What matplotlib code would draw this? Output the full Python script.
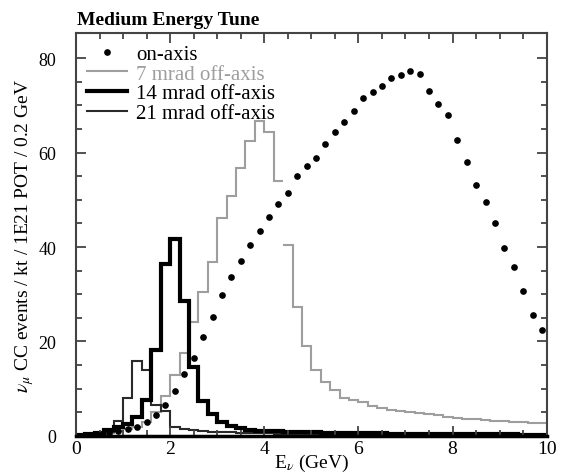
import numpy as np
import matplotlib.pyplot as plt

# bin edges 0.2 GeV
edges = np.round(np.arange(0, 10.01, 0.2), 2)
centers = np.round(edges[:-1] + 0.1, 2)

on_axis = [0.05, 0.15, 0.3, 0.6, 1.0, 1.5, 2.0, 3.0, 4.5, 6.5,
           9.5, 13.1, 16.5, 20.9, 25.2, 29.8, 33.7, 37.1, 40.5, 43.3,
           46.4, 49.0, 51.4, 55.0, 57.2, 58.9, 61.7, 64.3, 66.5, 68.8,
           71.5, 72.9, 74.1, 75.8, 76.5, 77.2, 76.6, 73.1, 70.2, 68.0,
           62.7, 58.1, 53.1, 49.5, 45.1, 39.7, 35.8, 30.6, 25.6, 22.4]

off7 = [0.05, 0.15, 0.3, 0.6, 1.0, 1.5, 2.0, 3.0, 5.0, 8.5,
        12.9, 17.5, 24.1, 30.4, 36.9, 46.1, 50.9, 56.7, 62.4, 66.7,
        64.4, 54.0, 40.4, 27.4, 19.1, 14.0, 11.5, 9.8, 8.1, 7.7,
        7.1, 6.3, 5.9, 5.5, 5.2, 5.0, 4.8, 4.6, 4.4, 4.0,
        3.8, 3.7, 3.5, 3.4, 3.2, 3.1, 3.0, 2.9, 2.8, 2.7]

off14 = [0.2, 0.4, 0.7, 1.2, 1.8, 2.5, 4.1, 7.6, 18.1, 36.4,
         41.7, 28.6, 14.5, 7.3, 4.7, 2.9, 2.05, 1.6, 1.3, 1.1,
         1.0, 0.95, 0.9, 0.85, 0.8, 0.75, 0.7, 0.7, 0.65, 0.6,
         0.6, 0.55, 0.55, 0.5, 0.5, 0.5, 0.45, 0.45, 0.45, 0.4,
         0.4, 0.4, 0.4, 0.35, 0.35, 0.35, 0.35, 0.3, 0.3, 0.3]

off21 = [0.1, 0.2, 0.4, 0.8, 3.2, 8.0, 15.8, 14.0, 6.6, 5.2,
         1.9, 1.4, 1.2, 1.0, 0.9, 0.8, 0.75, 0.7, 0.65, 0.6,
         0.55, 0.5, 0.5, 0.45, 0.45, 0.4, 0.4, 0.4, 0.35, 0.35,
         0.35, 0.3, 0.3, 0.3, 0.3, 0.3, 0.25, 0.25, 0.25, 0.25,
         0.25, 0.2, 0.2, 0.2, 0.2, 0.2, 0.2, 0.2, 0.2, 0.2]

plt.rcParams['font.family'] = ['Liberation Serif', 'DejaVu Serif']
plt.rcParams['mathtext.fontset'] = 'stix'

fig = plt.figure(figsize=(5.61, 4.77), dpi=100)
ax = fig.add_axes([0.1355, 0.0839, 0.839, 0.8448])

gris = '#9e9e9e'
# 7 mrad drawn in two pieces (gap at 4.4 GeV as in original)
k = 22
ax.stairs(off7[:k], edges[:k + 1], color=gris, lw=1.5, baseline=None,
          label='7 mrad off-axis')
ax.stairs(off7[k:], edges[k:], color=gris, lw=1.5, baseline=None)
ax.stairs(off21, edges, color='#2a2a2a', lw=1.5, baseline=None,
          label='21 mrad off-axis')
ax.stairs(off14, edges, color='black', lw=3, baseline=None,
          label='14 mrad off-axis')
ax.plot(centers, on_axis, 'o', color='black', ms=3.8, ls='none',
        label='on-axis')

ax.set_xlim(0, 10)
ax.set_ylim(0, 85.3)
ax.set_xticks([0, 2, 4, 6, 8, 10])
ax.set_xticks(np.arange(0, 10.01, 0.5), minor=True)
ax.set_yticks([0, 20, 40, 60, 80])
ax.set_yticks(np.arange(0, 85, 5), minor=True)
ax.tick_params(which='both', direction='in', top=True, right=True,
               color='#444444', width=1.3)
ax.tick_params(which='major', length=7)
ax.tick_params(which='minor', length=4)
ax.tick_params(axis='y', labelsize=13, pad=14)
ax.tick_params(axis='x', labelsize=14, pad=3)
for s in ax.spines.values():
    s.set_color('#444444')
    s.set_linewidth(1.5)
ax.spines['bottom'].set_color('black')
ax.spines['bottom'].set_linewidth(2.5)

ax.set_xlabel(r'E$_\nu$ (GeV)', fontsize=14, labelpad=-4)
ax.set_ylabel(r'$\nu_\mu$ CC events / kt / 1E21 POT / 0.2 GeV', fontsize=14,
              labelpad=2)
fig.text(0.137, 0.958, 'Medium Energy Tune', fontsize=14, fontweight='bold',
         va='center', ha='left')

h, l = ax.get_legend_handles_labels()
order = [3, 0, 2, 1]
leg = ax.legend([h[i] for i in order], [l[i] for i in order],
                loc='upper left', frameon=False, fontsize=15,
                handlelength=1.9, handletextpad=0.45, labelspacing=0.0,
                borderaxespad=0.25, borderpad=0.3, numpoints=1)
leg.get_texts()[1].set_color(gris)

fig.savefig('out.png', dpi=100)
